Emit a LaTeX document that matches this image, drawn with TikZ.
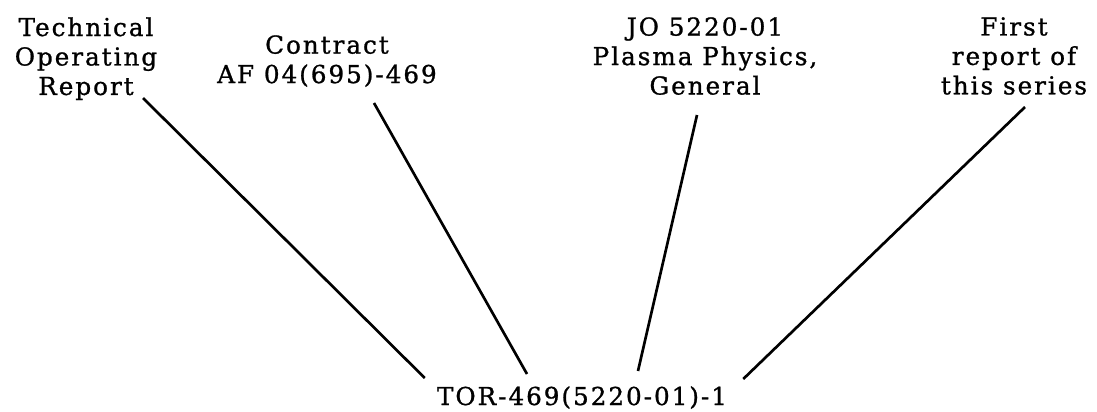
\documentclass[tikz,border=0pt]{standalone}
\usepackage{fontspec}
\setmainfont{DejaVu Serif}[LetterSpace=8, FakeBold=1]
\usepackage{tikz}
\usetikzlibrary{calc}

\begin{document}
\begin{tikzpicture}[x=0.75pt, y=-0.75pt, every node/.style={font=\fontsize{18.5}{22.1}\selectfont, align=center, inner sep=0pt}, leader/.style={line width=2pt, black}]
        \useasboundingbox (0,0) rectangle (1097,411);
        \node[anchor=north] (tech) at (86,17) {Technical\\Operating\\Report};
        \node[anchor=north] (contract) at (327,35) {Contract\\AF 04(695)-469};
        \node[anchor=north] (jo) at (705,17) {JO 5220-01\\Plasma Physics,\\General};
        \node[anchor=north] (first) at (1014,17) {First\\report of\\this series};
        \node[anchor=base] (tor) at (582,405) {TOR-469(5220-01)-1};

        % Leaders - black
        \draw[leader] ($(tech.north)+(57,81)$) -- ($(tor.base west)+(-12,-27)$);
        \draw[leader] ($(contract.north)+(47,68)$) -- ($(tor.base)+(-55,-31)$);
        \draw[leader] ($(jo.north)+(-8,98)$) -- ($(tor.base)+(56,-34)$);
        \draw[leader] ($(first.north)+(11,90)$) -- ($(tor.base east)+(16,-26)$);
      \end{tikzpicture}
\end{document}
